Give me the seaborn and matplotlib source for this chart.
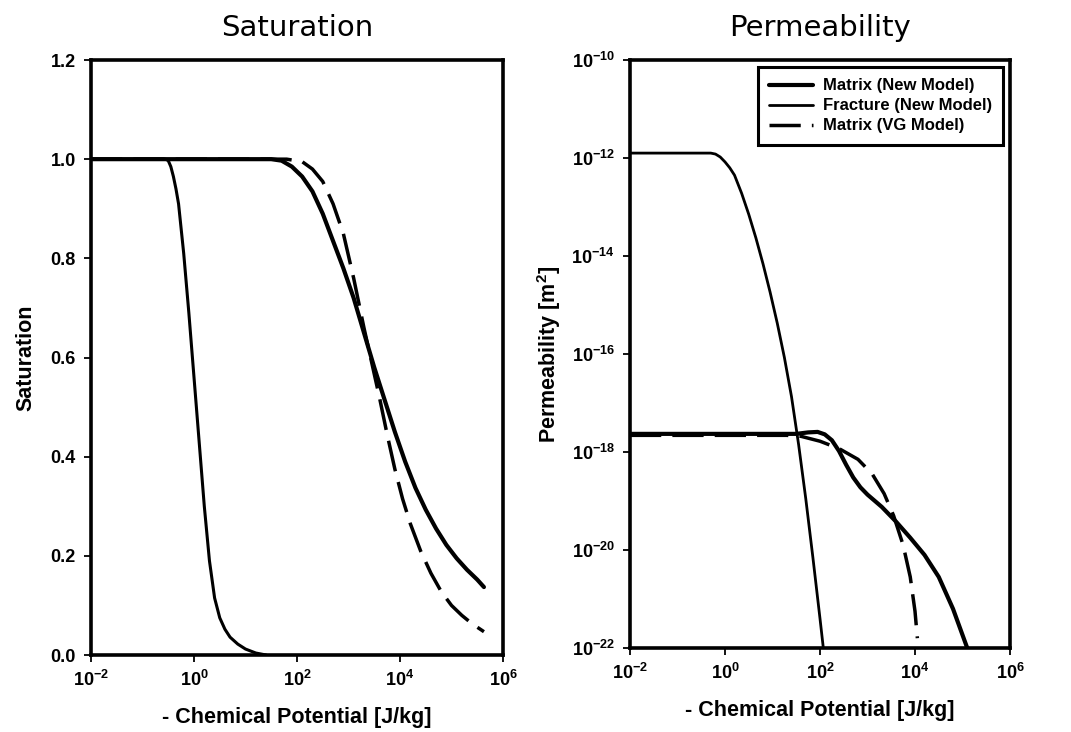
import numpy as np
import pandas as pd
import seaborn as sns
import matplotlib
matplotlib.use("Agg")
from matplotlib import pyplot as plt
from matplotlib.ticker import FixedLocator, NullLocator

# Saturation panel (log10 of -chemical potential, saturation)
sat_fracture_logx = [-2, -0.55, -0.5, -0.45, -0.4, -0.35, -0.3, -0.2, -0.1, 0.0, 0.1, 0.2,
                     0.3, 0.4, 0.5, 0.6, 0.7, 0.85, 1.0, 1.2, 1.4]
sat_fracture = [1.0, 1.0, 0.997, 0.985, 0.965, 0.94, 0.91, 0.81, 0.69, 0.56, 0.43, 0.30,
                0.19, 0.115, 0.075, 0.052, 0.036, 0.022, 0.012, 0.004, 0.0]

sat_matrix_logx = [-2, 1.5, 1.7, 1.9, 2.1, 2.3, 2.5, 2.7, 2.9, 3.1, 3.3, 3.5, 3.7, 3.9, 4.1,
                   4.3, 4.5, 4.7, 4.9, 5.1, 5.3, 5.5, 5.63]
sat_matrix = [1.0, 1.0, 0.997, 0.985, 0.965, 0.935, 0.89, 0.835, 0.78, 0.72, 0.65, 0.58,
              0.515, 0.45, 0.39, 0.337, 0.293, 0.255, 0.222, 0.195, 0.172, 0.152, 0.137]

sat_vg_logx = [-2, 1.8, 2.1, 2.3, 2.5, 2.7, 2.9, 3.1, 3.3, 3.45, 3.6, 3.75, 3.9, 4.05, 4.2,
               4.4, 4.6, 4.8, 5.0, 5.2, 5.4, 5.63]
sat_vg = [1.0, 1.0, 0.995, 0.98, 0.955, 0.91, 0.85, 0.76, 0.66, 0.59, 0.52, 0.445, 0.375,
          0.315, 0.265, 0.21, 0.165, 0.128, 0.1, 0.08, 0.063, 0.047]

# Permeability panel (log10 of -chemical potential, log10 of permeability)
perm_matrix_logx = [-2, 1.5, 1.75, 1.95, 2.1, 2.25, 2.4, 2.55, 2.7, 2.85, 3.0, 3.3, 3.6, 3.9,
                    4.2, 4.5, 4.8, 5.1]
perm_matrix_logk = [-17.63, -17.63, -17.6, -17.59, -17.64, -17.76, -17.98, -18.26, -18.52,
                    -18.72, -18.87, -19.12, -19.42, -19.75, -20.1, -20.55, -21.2, -22.0]

perm_fracture_logx = [-2, -0.3, -0.2, -0.1, 0.0, 0.1, 0.2, 0.35, 0.5, 0.65, 0.8, 0.95, 1.1,
                      1.25, 1.4, 1.55, 1.7, 1.85, 2.0, 2.07]
perm_fracture_logk = [-11.9, -11.9, -11.92, -11.98, -12.08, -12.2, -12.35, -12.72, -13.15,
                      -13.63, -14.16, -14.74, -15.37, -16.07, -16.87, -17.85, -18.95, -20.15,
                      -21.4, -22.0]

perm_vg_logx = [-2, 1.3, 1.6, 2.0, 2.4, 2.8, 3.1, 3.35, 3.55, 3.75, 3.9, 4.0, 4.05]
perm_vg_logk = [-17.66, -17.66, -17.68, -17.78, -17.93, -18.15, -18.45, -18.85, -19.3,
                -19.9, -20.55, -21.25, -21.8]

x_ticks = [1e-2, 1e0, 1e2, 1e4, 1e6]
x_ticklabels = ["$\\mathbf{10^{-2}}$", "$\\mathbf{10^{0}}$", "$\\mathbf{10^{2}}$",
                "$\\mathbf{10^{4}}$", "$\\mathbf{10^{6}}$"]
sat_ticks = [0.0, 0.2, 0.4, 0.6, 0.8, 1.0, 1.2]
perm_ticks = [1e-22, 1e-20, 1e-18, 1e-16, 1e-14, 1e-12, 1e-10]
perm_ticklabels = ["$\\mathbf{10^{%d}}$" % p for p in range(-22, -9, 2)]

sns.set_style("white")
plt.rcParams["font.family"] = ["Liberation Sans", "DejaVu Sans"]
plt.rcParams["mathtext.fontset"] = "custom"
plt.rcParams["mathtext.rm"] = "Liberation Sans"
plt.rcParams["mathtext.bf"] = "Liberation Sans:bold"
for key in ("text.color", "axes.labelcolor", "xtick.color", "ytick.color"):
    plt.rcParams[key] = "black"

fig = plt.figure(figsize=(10.71, 7.32), dpi=100)
ax1 = fig.add_axes([91 / 1071, 1 - 655 / 732, 412 / 1071, 595 / 732])
ax2 = fig.add_axes([630 / 1071, 1 - 648 / 732, 380 / 1071, 588 / 732])

dash = (0, (9, 3.2))


def draw(ax, logx, y, lw, ls="-", label=None):
    df = pd.DataFrame({"x": np.power(10.0, logx), "y": y})
    sns.lineplot(data=df, x="x", y="y", ax=ax, color="black", lw=lw, linestyle=ls,
                 sort=False, label=label, legend=False)


draw(ax1, sat_fracture_logx, sat_fracture, 2.2)
draw(ax1, sat_matrix_logx, sat_matrix, 3.0)
draw(ax1, sat_vg_logx, sat_vg, 2.5, dash)

draw(ax2, perm_matrix_logx, np.power(10.0, perm_matrix_logk), 3.0, label="Matrix (New Model)")
draw(ax2, perm_fracture_logx, np.power(10.0, perm_fracture_logk), 2.0, label="Fracture (New Model)")
draw(ax2, perm_vg_logx, np.power(10.0, perm_vg_logk), 2.5, dash, label="Matrix (VG Model)")

for ax in (ax1, ax2):
    ax.set_xscale("log")
    ax.set_xlim(1e-2, 1e6)
    ax.xaxis.set_major_locator(FixedLocator(x_ticks))
    ax.xaxis.set_minor_locator(NullLocator())
    ax.set_xticklabels(x_ticklabels)
    ax.set_xlabel("- Chemical Potential [J/kg]", fontsize=15.5, fontweight="bold", labelpad=12)
    for s in ax.spines.values():
        s.set_linewidth(2.6)
        s.set_color("black")
    ax.tick_params(axis="both", which="major", direction="out", length=5, width=1.3,
                   labelsize=13, pad=6, bottom=True, left=True, colors="black")

ax1.set_ylim(0, 1.2)
ax1.set_yticks(sat_ticks)
ax1.set_yticklabels(["%.1f" % t for t in sat_ticks], fontweight="bold")
ax1.set_ylabel("Saturation", fontsize=15.5, fontweight="bold", labelpad=10)
ax1.set_title("Saturation", fontsize=21, family="DejaVu Sans", pad=17, color="black")

ax2.set_yscale("log")
ax2.set_ylim(1e-22, 1e-10)
ax2.yaxis.set_major_locator(FixedLocator(perm_ticks))
ax2.yaxis.set_minor_locator(NullLocator())
ax2.set_yticklabels(perm_ticklabels)
ax2.set_ylabel("Permeability [m$\\mathbf{^2}$]", fontsize=15.5, fontweight="bold", labelpad=6)
ax2.set_title("Permeability", fontsize=21, family="DejaVu Sans", pad=17, color="black")

leg = ax2.legend(loc="upper right", bbox_to_anchor=(1.0, 1.0), borderaxespad=0.4,
                 frameon=True, fancybox=False, edgecolor="black",
                 prop={"weight": "bold", "size": 12}, handlelength=2.6,
                 borderpad=0.7, labelspacing=0.3, handletextpad=0.6)
leg.get_frame().set_linewidth(2.2)
leg.get_frame().set_alpha(1.0)
for t in leg.get_texts():
    t.set_color("black")

fig.savefig("out.png", dpi=100, facecolor="white")
